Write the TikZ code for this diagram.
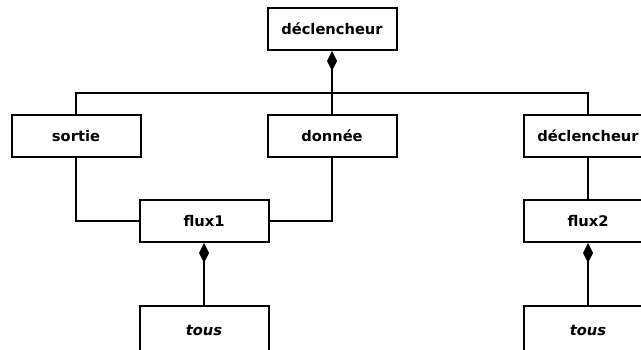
\documentclass[tikz,border=0pt]{standalone}
\usepackage{fontspec}
\setsansfont{DejaVu Sans}
\usetikzlibrary{arrows.meta}

\tikzset{
    classe/.style={draw, line width=1.5pt, fill=white, minimum width=96.75pt,
        minimum height=31.5pt, inner sep=0pt,
        font=\fontsize{11}{13}\selectfont\sffamily\bfseries},
    lien/.style={line width=1.4pt},
    compo/.style={lien, {Diamond[length=15pt,width=7.5pt]}-}
}

\begin{document}
\begin{tikzpicture}[x=0.75pt, y=-0.75pt]
                \useasboundingbox (0,0) rectangle (641,349);
                \node[classe] (decl) at (332,29) {déclencheur};
                \node[classe] (sortie) at (76,136) {sortie};
                \node[classe] (donnee) at (332,136) {donnée};
                \node[classe] (decldeux) at (588,136) {déclencheur};
                \node[classe] (fluxun) at (204,221) {flux1};
                \node[classe] (fluxdeux) at (588,221) {flux2};
                \node[classe, minimum height=36pt] (tousun) at (204,330) {\itshape tous};
                \node[classe, minimum height=36pt] (tousdeux) at (588,330) {\itshape tous};
                % bus under the top class
                \coordinate (bus) at (332,93);
                \draw[lien] (sortie.north) |- (bus) -| (decldeux.north);
                \draw[lien] (bus) -- (donnee.north);
                \draw[compo] (decl.south) -- (bus);
                \draw[lien] (sortie.south) |- (fluxun.west);
                \draw[lien] (donnee.south) |- (fluxun.east);
                \draw[lien] (decldeux.south) -- (fluxdeux.north);
                \draw[compo] (fluxun.south) -- (tousun.north);
                \draw[compo] (fluxdeux.south) -- (tousdeux.north);
            \end{tikzpicture}
\end{document}
